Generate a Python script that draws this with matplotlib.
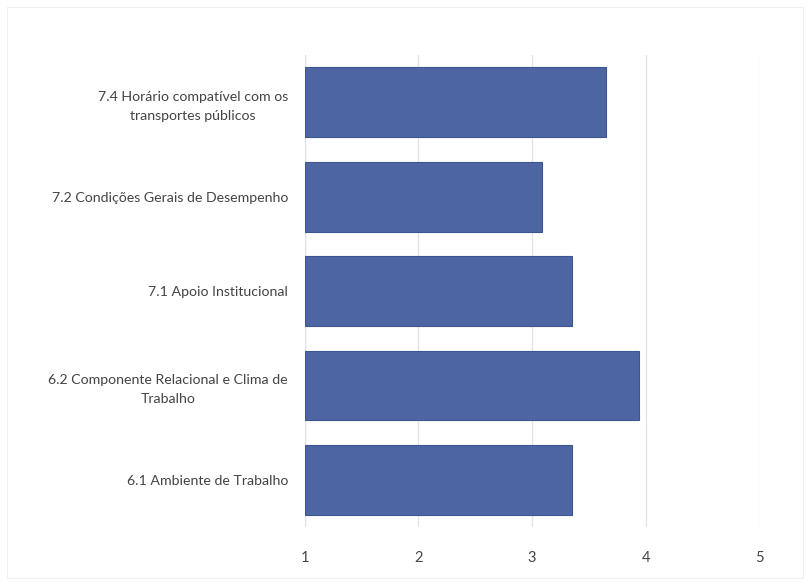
import matplotlib
matplotlib.use("Agg")
import matplotlib.pyplot as plt
from matplotlib.patches import Rectangle

categories = [
    "6.1 Ambiente de Trabalho",
    "6.2 Componente Relacional e Clima de\nTrabalho",
    "7.1 Apoio Institucional",
    "7.2 Condições Gerais de Desempenho",
    "7.4 Horário compatível com os\ntransportes públicos",
]
scores = [3.35, 3.94, 3.35, 3.09, 3.65]
xticks = [1, 2, 3, 4, 5]

BAR = "#4d65a2"
EDGE = "#3f5590"
TEXT = "#444444"
GRID = "#e0e1ea"

plt.rcParams["font.family"] = ["Lato", "DejaVu Sans"]

fig = plt.figure(figsize=(8.1, 5.85), dpi=100)
ax = fig.add_axes([0.376, 0.099, 0.562, 0.807])

ypos = range(len(categories))
ax.barh(ypos, [s - 1 for s in scores], left=1, height=0.74,
        color=BAR, edgecolor=EDGE, linewidth=0.8, zorder=3)

ax.set_xlim(1, 5)
ax.set_ylim(-0.5, len(categories) - 0.5)
ax.set_xticks(xticks)
ax.set_xticklabels([str(t) for t in xticks])
ax.set_yticks(list(ypos))
ax.set_yticklabels(categories, multialignment="center", linespacing=1.7)

ax.tick_params(axis="x", length=0, pad=17, labelsize=10.5, labelcolor=TEXT)
ax.tick_params(axis="y", length=0, pad=12, labelsize=10.2, labelcolor=TEXT)
ax.grid(axis="x", color=GRID, lw=0.9, zorder=0)
ax.axvline(1, color=GRID, lw=1.0, zorder=1)
for s in ax.spines.values():
    s.set_visible(False)

# faint chart frame
fig.patches.append(Rectangle((0.009, 0.012), 0.982, 0.976, transform=fig.transFigure,
                             fill=False, edgecolor="#eeeef3", lw=0.8))

fig.savefig("out.png", dpi=100)
